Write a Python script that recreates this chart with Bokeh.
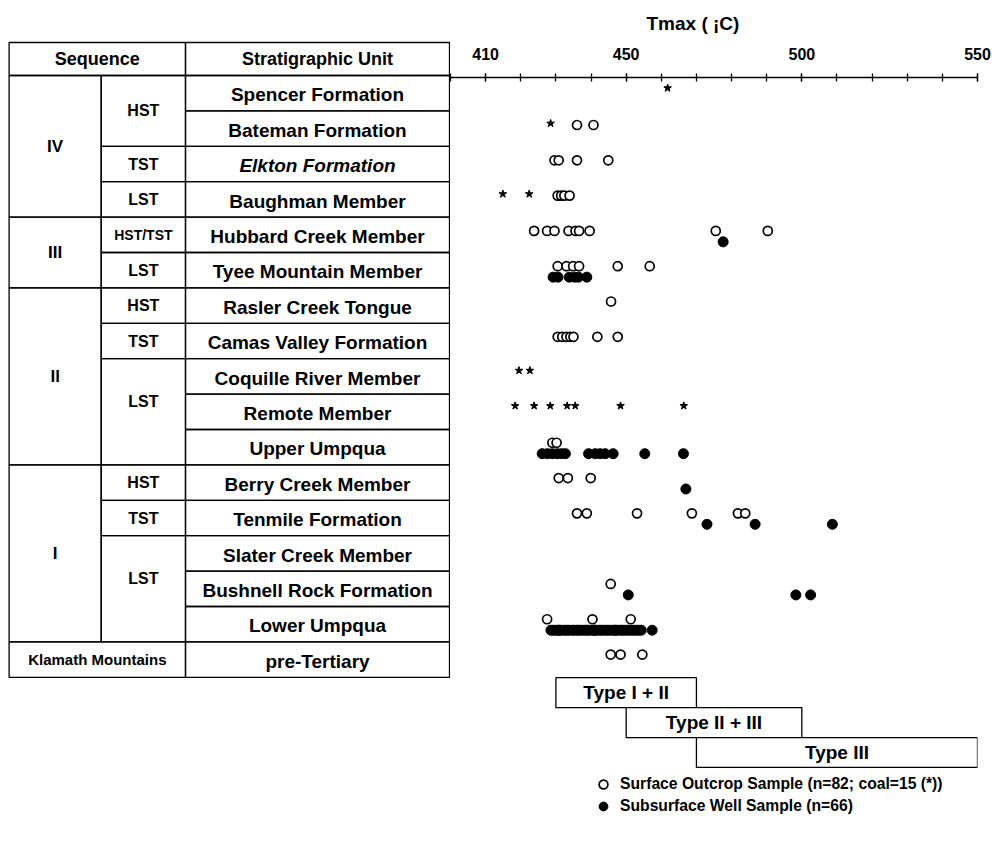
from bokeh.plotting import figure
from bokeh.layouts import row
from bokeh.models import Range1d, FixedTicker, ColumnDataSource, Legend, LegendItem
from bokeh.transform import dodge
from bokeh.core.properties import value
from bokeh.embed import file_html
from bokeh.resources import INLINE

FONT = "Liberation Sans"

# ---------------- data ----------------
units = ["Spencer Formation", "Bateman Formation", "Elkton Formation", "Baughman Member",
         "Hubbard Creek Member", "Tyee Mountain Member", "Rasler Creek Tongue",
         "Camas Valley Formation", "Coquille River Member", "Remote Member", "Upper Umpqua",
         "Berry Creek Member", "Tenmile Formation", "Slater Creek Member",
         "Bushnell Rock Formation", "Lower Umpqua", "pre-Tertiary"]
italic_units = ["Elkton Formation"]
seq_names = ["IV", "III", "II", "I"]
seq_rows = [4, 2, 5, 5]
tract_names = ["HST", "TST", "LST", "HST/TST", "LST", "HST", "TST", "LST", "HST", "TST", "LST"]
tract_rows = [2, 1, 1, 1, 1, 1, 1, 3, 1, 1, 3]
basement_name = "Klamath Mountains"

tick_labels = [410, 450, 500, 550]
tick_marks = list(range(400, 551, 10))

type_names = ["Type I + II", "Type II + III", "Type III"]
type_lo = [430, 450, 470]
type_hi = [470, 500, 550]

outcrop_tmax = {
    "Bateman Formation": [436, 440.7],
    "Elkton Formation": [429.6, 430.8, 436, 444.9],
    "Baughman Member": [430.5, 431.5, 432.4, 433.9],
    "Hubbard Creek Member": [423.8, 427.5, 429.6, 433.6, 435.6, 436.6, 439.6, 475.5, 490.3],
    "Tyee Mountain Member": [430.5, 433, 434.9, 436.6, 447.6, 456.7],
    "Rasler Creek Tongue": [445.7],
    "Camas Valley Formation": [430.5, 431.8, 433, 434.1, 435, 441.8, 447.6],
    "Upper Umpqua": [429, 430.2],
    "Berry Creek Member": [430.8, 433.4, 439.9],
    "Tenmile Formation": [436, 438.8, 453.1, 468.7, 481.8, 483.9],
    "Bushnell Rock Formation": [445.6],
    "Lower Umpqua": [427.5, 440.4, 451.3],
    "pre-Tertiary": [445.6, 448.4, 454.6],
}
coal_tmax = {
    "Spencer Formation": [461.8],
    "Bateman Formation": [428.5],
    "Baughman Member": [414.9, 422.4],
    "Coquille River Member": [419.5, 422.6],
    "Remote Member": [418.4, 423.8, 428.4, 433.2, 435.5, 448.4, 466.4],
}
well_tmax = {
    "Hubbard Creek Member": [477.6],
    "Tyee Mountain Member": [429.2, 430.6, 433.8, 435.3, 436.4, 438.8],
    "Upper Umpqua": [426.1, 427.6, 429, 430.4, 431.6, 432.7, 439.3, 441.2, 442.6, 444,
                     446.3, 455.3, 466.3],
    "Berry Creek Member": [467],
    "Tenmile Formation": [473, 486.7, 508.7],
    "Bushnell Rock Formation": [450.6, 498.3, 502.5],
    "Lower Umpqua": [428.6, 429.3, 430.1, 430.8, 431.0, 431.4, 432.3, 433.0, 433.6, 434.5,
                     435.1, 435.9, 436.4, 437.2, 438.0, 438.7, 439.2, 440.1, 440.9, 441.0,
                     441.5, 442.4, 443.0, 443.8, 444.6, 445.3, 446.1, 446.8, 447.0, 447.5,
                     448.4, 449.0, 449.8, 450.6, 451.4, 452.1, 452.9, 453.6, 454.3, 457.4],
}
legend_labels = ["Surface Outcrop Sample (n=82; coal=15 (*))", "Subsurface Well Sample (n=66)"]

# ---------------- layout constants ----------------
ROW = 35.4          # px per table row
H = 830
AX = 75             # px above the plot frame (axis band)
LW, RW = 450, 541
R_RIGHT = 14
y_bottom = (H - AX) / ROW
y_top_left = -AX / ROW
hdr_top = -33 / ROW
colx = [8.6, 100.7, 185.0, 449.0]
box_h = 30 / ROW
LINE = 1.3

# ---------------- left: table ----------------
left = figure(width=LW, height=H, x_range=Range1d(0, LW), y_range=Range1d(y_bottom, y_top_left),
              toolbar_location=None, output_backend="svg", min_border=0,
              x_axis_location=None, y_axis_location=None, outline_line_color=None)
left.grid.visible = False
left.frame_align = False

cl, cr, ct, cb = [], [], [], []
def cell(x0, x1, y0, y1):
    cl.append(x0); cr.append(x1); ct.append(y0); cb.append(y1)

cell(colx[0], colx[2], hdr_top, 0)
cell(colx[2], colx[3], hdr_top, 0)
seq_y, s = [], 0
for n in seq_rows:
    cell(colx[0], colx[1], s, s + n)
    seq_y.append(s + n / 2)
    s += n
tr_y, s = [], 0
for n in tract_rows:
    cell(colx[1], colx[2], s, s + n)
    tr_y.append(s + n / 2 - (0.3 if n == 3 else 0))
    s += n
for i in range(len(units)):
    cell(colx[2], colx[3], i, i + 1)
nb = len(units) - 1
cell(colx[0], colx[2], nb, nb + 1)

left.quad(left=cl, right=cr, top=ct, bottom=cb, fill_color=None, line_color="black", line_width=LINE)

def ltext(xs, ys, texts, size, style="bold"):
    left.text(x=xs, y=ys, text=texts, text_align="center", text_baseline="middle",
              text_font=value(FONT), text_font_style=style, text_font_size=size, text_color="black")

ltext([(colx[0] + colx[2]) / 2, (colx[2] + colx[3]) / 2], [hdr_top / 2] * 2,
      ["Sequence", "Stratigraphic Unit"], "18px")
ltext([(colx[0] + colx[1]) / 2] * len(seq_names), seq_y, seq_names, "17px")
small = [t for t in tract_names if "/" not in t]
ltext([(colx[1] + colx[2]) / 2] * len(small),
      [y for y, t in zip(tr_y, tract_names) if "/" not in t], small, "16px")
big = [t for t in tract_names if "/" in t]
ltext([(colx[1] + colx[2]) / 2] * len(big),
      [y for y, t in zip(tr_y, tract_names) if "/" in t], big, "14px")
ltext([(colx[0] + colx[2]) / 2], [nb + 0.5], [basement_name], "15px")
usrc = ColumnDataSource(dict(x=[(colx[2] + colx[3]) / 2] * len(units),
                             y=[i + 0.55 for i in range(len(units))], t=units,
                             st=["bold italic" if u in italic_units else "bold" for u in units]))
left.text(x="x", y="y", text="t", source=usrc, text_align="center", text_baseline="middle",
          text_font=value(FONT), text_font_style="st", text_font_size="19px", text_color="black")

# ---------------- right: Tmax plot ----------------
right = figure(width=RW, height=H, x_range=Range1d(400, 550), y_range=Range1d(y_bottom, 0),
               x_axis_location="above", y_axis_location=None, toolbar_location=None,
               output_backend="svg", min_border_left=0, min_border_right=R_RIGHT,
               min_border_top=AX, min_border_bottom=0, outline_line_color=None,
               title="Tmax ( \u00a1C)")
right.frame_align = False
right.grid.visible = False
ax = right.xaxis[0]
ax.ticker = FixedTicker(ticks=tick_labels, minor_ticks=tick_marks)
ax.major_tick_in = 4
ax.major_tick_out = 4
ax.minor_tick_in = 4
ax.minor_tick_out = 4
ax.axis_line_width = LINE
ax.major_tick_line_width = LINE
ax.minor_tick_line_width = LINE
ax.major_label_text_font = FONT
ax.major_label_text_font_style = "bold"
ax.major_label_text_font_size = "16px"
ax.major_label_text_color = "black"
ax.major_label_standoff = 14
right.title.align = "left"
right.title.offset = 196
right.title.standoff = 21
right.title.text_font = FONT
right.title.text_font_style = "bold"
right.title.text_font_size = "19px"
right.title.text_color = "black"

def src(d):
    xs, ys = [], []
    for u, vals in d.items():
        for v in vals:
            xs.append(v)
            ys.append(units.index(u) + 0.5)
    return ColumnDataSource(dict(tmax=xs, row=ys))

well_r = right.scatter("tmax", dodge("row", 0.155), source=src(well_tmax), marker="circle",
                       size=10, fill_color="black", line_color="black", line_width=1)
open_r = right.scatter("tmax", dodge("row", -0.155), source=src(outcrop_tmax), marker="circle",
                       size=9, fill_color="white", line_color="black", line_width=1.7)
right.scatter("tmax", dodge("row", -0.2), source=src(coal_tmax), marker="star",
              size=8, fill_color="black", line_color="black")

n0 = len(units)
tops = [n0 + i * box_h for i in range(len(type_names))]
right.quad(left=type_lo, right=type_hi, top=tops, bottom=[t + box_h for t in tops],
           fill_color="white", line_color="black", line_width=LINE)
right.text(x=[(a + b) / 2 for a, b in zip(type_lo, type_hi)], y=[t + box_h / 2 for t in tops],
           text=type_names, text_align="center", text_baseline="middle", text_font=value(FONT),
           text_font_style="bold", text_font_size="19px", text_color="black")

legend = Legend(items=[LegendItem(label=legend_labels[0], renderers=[open_r]),
                       LegendItem(label=legend_labels[1], renderers=[well_r])],
                location=(142, 13), border_line_color=None, background_fill_alpha=0,
                padding=0, margin=0, spacing=-3, glyph_width=22, glyph_height=22,
                label_height=22, label_standoff=6, label_text_font=FONT,
                label_text_font_style="bold", label_text_font_size="15.7px",
                label_text_color="black")
right.add_layout(legend)

open("out.html", "w").write(file_html(row(left, right), INLINE))
